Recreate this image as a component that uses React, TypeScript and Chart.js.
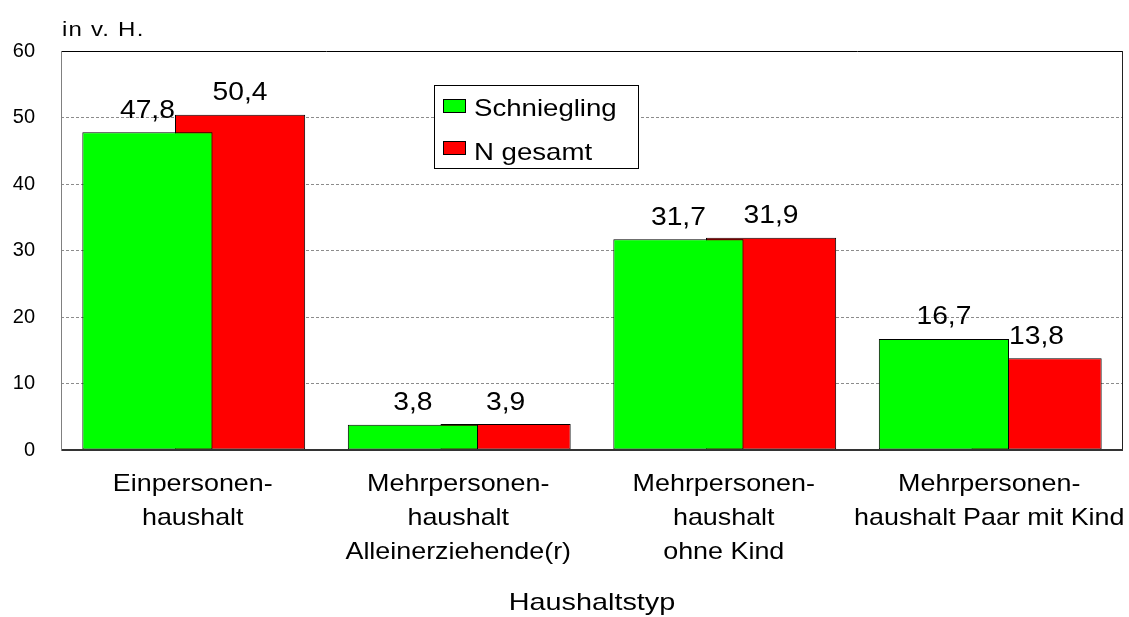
import React, { useEffect, useRef } from 'react';
import { Chart, registerables } from 'chart.js';

Chart.register(...registerables);

// ---- data ----
const categories: string[][] = [
  ['Einpersonen-', 'haushalt'],
  ['Mehrpersonen-', 'haushalt', 'Alleinerziehende(r)'],
  ['Mehrpersonen-', 'haushalt', 'ohne Kind'],
  ['Mehrpersonen-', 'haushalt Paar mit Kind'],
];
const seriesNames = ['Schniegling', 'N gesamt'];
const schniegling = [47.8, 3.8, 31.7, 16.7];
const nGesamt = [50.4, 3.9, 31.9, 13.8];
const yMin = 0;
const yMax = 60;
const yStep = 10;
const yUnit = 'in v. H.';
const xTitle = 'Haushaltstyp';

// ---- style ----
const FONT = "'Liberation Sans', Arial, Helvetica, sans-serif";
const GREEN = '#00FF00';
const RED = '#FF0000';
const W = 1129;
const H = 617;

const fmt = (v: number) => v.toFixed(1).replace('.', ',');

// draw text slightly stretched horizontally, like the original rendering
function stretchedText(
  ctx: CanvasRenderingContext2D,
  text: string,
  x: number,
  y: number,
  size: number,
  sx: number,
  align: CanvasTextAlign,
  spacing = 0
) {
  ctx.save();
  (ctx as any).letterSpacing = `${spacing}px`;
  ctx.font = `${size}px ${FONT}`;
  ctx.fillStyle = '#000';
  ctx.textAlign = align;
  ctx.textBaseline = 'alphabetic';
  ctx.translate(x, y);
  ctx.scale(sx, 1);
  ctx.fillText(text, 0, 0);
  ctx.restore();
}

const decoPlugin = {
  id: 'deco',
  afterDatasetsDraw(chart: any) {
    const { ctx, chartArea: a } = chart;
    ctx.save();
    ctx.setLineDash([]);
    const seg = (x1: number, y1: number, x2: number, y2: number, c: string, w = 1) => {
      ctx.strokeStyle = c;
      ctx.lineWidth = w;
      ctx.beginPath();
      ctx.moveTo(x1, y1);
      ctx.lineTo(x2, y2);
      ctx.stroke();
    };
    seg(a.left, a.top + 0.5, a.right, a.top + 0.5, '#000');
    seg(a.right - 0.5, a.top, a.right - 0.5, a.bottom, '#222');
    seg(a.left, a.bottom, a.right, a.bottom, '#333', 2);
    seg(a.left + 0.5, a.top, a.left + 0.5, a.bottom + 1, '#808080');
    ctx.restore();

    // value labels above bars
    chart.data.datasets.forEach((ds: any, di: number) => {
      const meta = chart.getDatasetMeta(di);
      meta.data.forEach((el: any, i: number) => {
        stretchedText(ctx, fmt(ds.data[i]), el.x, el.y - 14.5, 25, 1.13, 'center');
      });
    });
  },
  afterDraw(chart: any) {
    const { ctx, chartArea: a } = chart;
    const xs = chart.scales.x;

    // category labels (multi-line)
    (chart.data.labels as string[][]).forEach((lines, i) => {
      const px = xs.getPixelForTick(i) - 1;
      lines.forEach((ln, li) => {
        stretchedText(ctx, ln, px, a.bottom + 41 + li * 34, 24, 1.12, 'center');
      });
    });

    // x axis title
    stretchedText(ctx, xTitle, (a.left + a.right) / 2, 609.5, 24, 1.2, 'center');

    // unit title
    stretchedText(ctx, yUnit, a.left + 1, 36, 20, 1.2, 'left', 1);

    // legend
    ctx.save();
    ctx.setLineDash([]);
    ctx.fillStyle = '#fff';
    ctx.fillRect(434, 85, 204, 83);
    ctx.strokeStyle = '#000';
    ctx.lineWidth = 1;
    ctx.strokeRect(434.5, 85.5, 204, 83);
    chart.data.datasets.forEach((ds: any, di: number) => {
      const sy = 99 + di * 42;
      ctx.fillStyle = ds.backgroundColor;
      ctx.fillRect(443, sy, 23, 14);
      ctx.strokeStyle = '#000';
      ctx.strokeRect(443.5, sy + 0.5, 22, 13);
    });
    ctx.restore();
    chart.data.datasets.forEach((ds: any, di: number) => {
      stretchedText(ctx, ds.label, 474, 116 + di * 44, 24, 1.15, 'left');
    });
  },
};

export default function App() {
  const ref = useRef<HTMLCanvasElement | null>(null);

  useEffect(() => {
    document.body.style.margin = '0';
    const canvas = ref.current;
    if (!canvas) return;
    const chart = new Chart(canvas, {
      type: 'bar',
      data: {
        labels: categories as any,
        datasets: [
          {
            label: seriesNames[0],
            data: schniegling,
            backgroundColor: GREEN,
            borderColor: '#000',
            borderWidth: 1,
            borderSkipped: false,
          },
          {
            label: seriesNames[1],
            data: nGesamt,
            backgroundColor: RED,
            borderColor: '#000',
            borderWidth: 1,
            borderSkipped: false,
          },
        ],
      },
      options: {
        responsive: false,
        animation: false,
        devicePixelRatio: 1,
        datasets: {
          bar: {
            categoryPercentage: 0.698,
            barPercentage: 1.405,
          },
        },
        layout: { padding: { top: 51, right: 6, left: 0, bottom: 0 } },
        plugins: {
          legend: { display: false },
          title: { display: false },
          tooltip: { enabled: false },
        },
        scales: {
          x: {
            type: 'category',
            offset: true,
            grid: { display: false, drawTicks: false },
            border: { display: false },
            ticks: { display: false, autoSkip: false },
            afterFit: (s: any) => {
              s.height = 167;
            },
          },
          y: {
            min: yMin,
            max: yMax,
            ticks: {
              stepSize: yStep,
              padding: 26,
              color: '#000',
              font: { family: FONT, size: 20 },
            },
            grid: {
              drawTicks: false,
              color: (c: any) =>
                c.tick && (c.tick.value === yMin || c.tick.value === yMax) ? 'rgba(0,0,0,0)' : '#8c8c8c',
              lineWidth: 1,
            },
            border: { display: false, dash: [3, 2] },
            afterFit: (s: any) => {
              s.width = 61;
            },
          },
        },
      },
      plugins: [decoPlugin],
    } as any);

    return () => chart.destroy();
  }, []);

  return (
    <div style={{ width: W, height: H, position: 'relative', background: '#fff' }}>
      <canvas ref={ref} width={W} height={H} style={{ display: 'block' }} />
    </div>
  );
}
